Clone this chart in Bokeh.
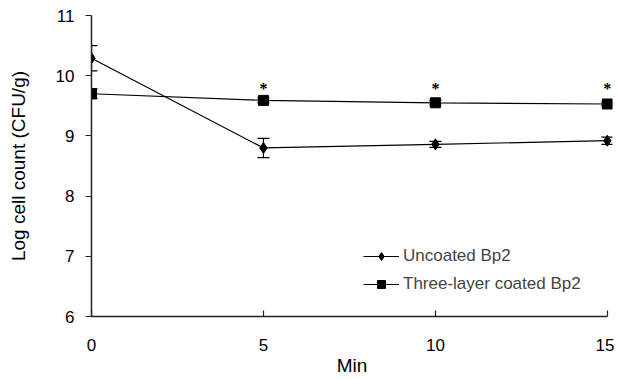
from bokeh.plotting import figure
from bokeh.models import Whisker, ColumnDataSource, Range1d, Legend, LegendItem, FixedTicker, LabelSet
from bokeh.embed import file_html
from bokeh.resources import INLINE

minutes = [0, 5, 10, 15]
uncoated = [10.29, 8.80, 8.86, 8.92]
uncoated_err = [0.21, 0.16, 0.05, 0.06]
coated = [9.70, 9.59, 9.55, 9.53]
coated_err = [0.08, 0.04, 0.04, 0.03]
star_x = [5, 10, 15]
star_y = [9.78, 9.78, 9.78]

FONT = "Liberation Sans"

p = figure(width=614, height=378, output_backend="svg", toolbar_location=None,
           x_range=Range1d(0, 15.15), y_range=Range1d(6, 11),
           min_border_left=91, min_border_right=2, min_border_top=15, min_border_bottom=61)
p.outline_line_color = None
p.xgrid.visible = False
p.ygrid.visible = False

for ax in (p.xaxis, p.yaxis):
    ax.axis_line_color = "#222222"
    ax.axis_line_width = 1.5
    ax.major_tick_line_color = "#222222"
    ax.major_tick_line_width = 1.2
    ax.minor_tick_line_color = None
    ax.major_label_text_font = FONT
    ax.major_label_text_font_size = "17px"
    ax.major_label_text_color = "black"
    ax.axis_label_text_font = FONT
    ax.axis_label_text_font_size = "19px"
    ax.axis_label_text_font_style = "normal"
    ax.axis_label_text_color = "black"

p.xaxis.bounds = (0, 15)
p.xaxis.ticker = FixedTicker(ticks=[0, 5, 10, 15])
p.yaxis.ticker = FixedTicker(ticks=[6, 7, 8, 9, 10, 11])
p.xaxis.major_tick_in = 6
p.xaxis.major_tick_out = 0
p.yaxis.major_tick_in = 0
p.yaxis.major_tick_out = 6
p.xaxis.major_label_standoff = 22
p.yaxis.major_label_standoff = 11
p.xaxis.axis_label = "Min"
p.yaxis.axis_label = "Log cell count (CFU/g)"
p.xaxis.axis_label_standoff = 1
p.yaxis.axis_label_standoff = 24

u_low = [v - e for v, e in zip(uncoated, uncoated_err)]
u_up = [v + e for v, e in zip(uncoated, uncoated_err)]
c_low = [v - e for v, e in zip(coated, coated_err)]
c_up = [v + e for v, e in zip(coated, coated_err)]
src_u = ColumnDataSource(dict(x=minutes, y=uncoated, lo=u_low, up=u_up))
src_c = ColumnDataSource(dict(x=minutes, y=coated, lo=c_low, up=c_up))

for src in (src_u, src_c):
    w = Whisker(base="x", lower="lo", upper="up", source=src, line_color="black", line_width=1.2)
    w.upper_head.size = 12
    w.lower_head.size = 12
    w.upper_head.line_color = "black"
    w.lower_head.line_color = "black"
    w.upper_head.line_width = 1.2
    w.lower_head.line_width = 1.2
    p.add_layout(w)

lu = p.line("x", "y", source=src_u, line_color="black", line_width=1.2)
mu = p.scatter("x", "y", source=src_u, marker="diamond", size=11, fill_color="black", line_color="black")
lc = p.line("x", "y", source=src_c, line_color="black", line_width=1.2)
mc = p.scatter("x", "y", source=src_c, marker="square", size=10, fill_color="black", line_color="black")

star_src = ColumnDataSource(dict(x=star_x, y=star_y, t=["*"] * len(star_x)))
stars = LabelSet(x="x", y="y", text="t", source=star_src, text_font=FONT, text_font_size="16px",
                 text_font_style="bold", text_align="center", text_baseline="middle", text_color="black")
p.add_layout(stars)

legend = Legend(items=[LegendItem(label="Uncoated Bp2", renderers=[lu, mu]),
                       LegendItem(label="Three-layer coated Bp2", renderers=[lc, mc])],
                location=(272, 22))
legend.background_fill_alpha = 0
legend.border_line_color = None
legend.label_text_font = FONT
legend.label_text_font_size = "17px"
legend.glyph_width = 36
legend.spacing = 8
legend.label_standoff = 4
p.add_layout(legend, "center")

open("out.html", "w").write(file_html(p, INLINE))
